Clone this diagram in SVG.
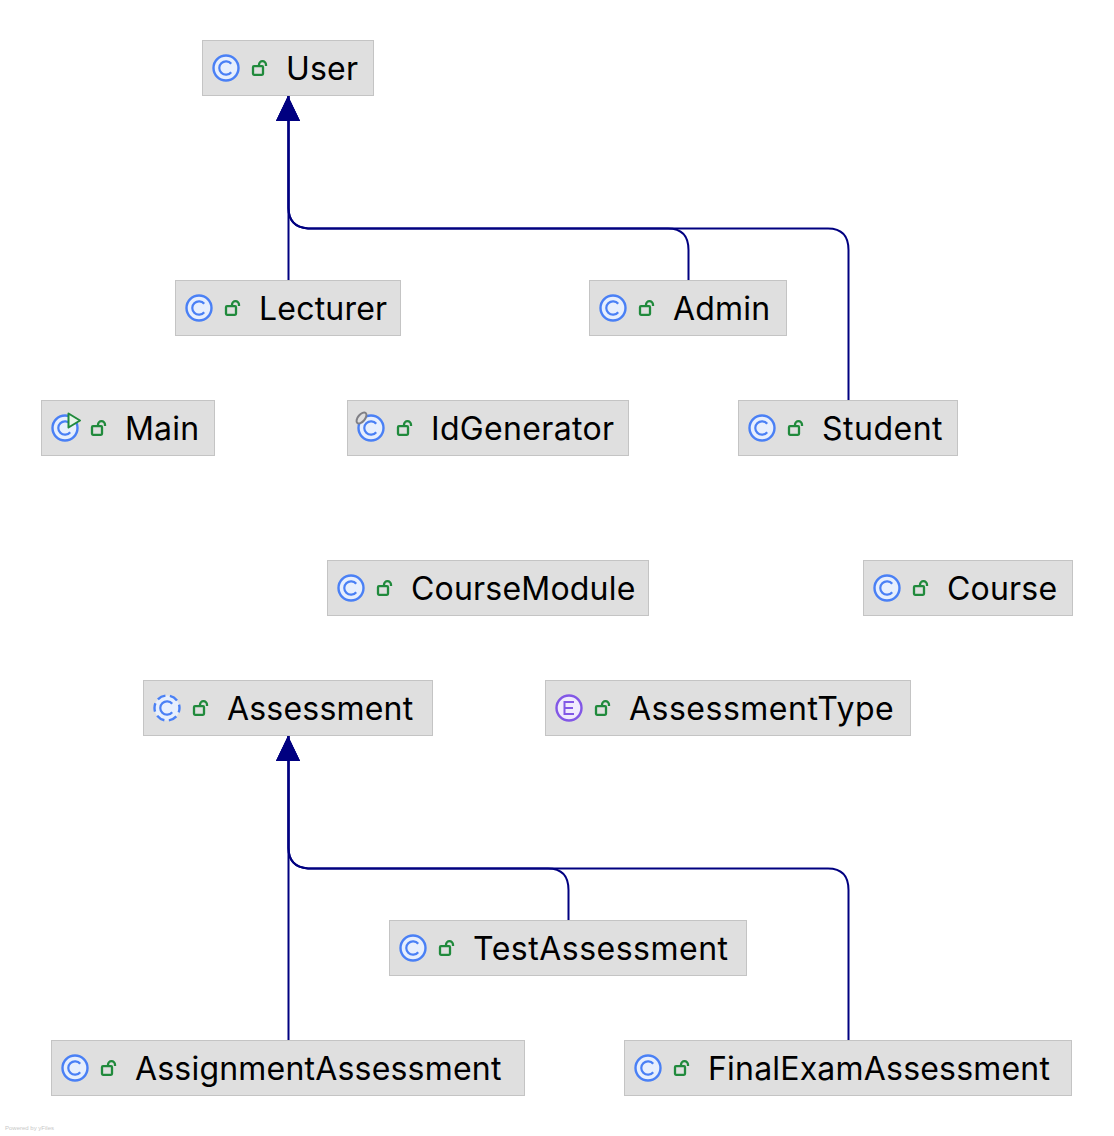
<svg xmlns="http://www.w3.org/2000/svg" width="1114" height="1136" viewBox="0 0 1114 1136">
<style>
.n{fill:#dfdfdf;stroke:#c4c4c4;stroke-width:1}
.t{font-family:Inter,"Noto Sans",sans-serif;font-size:32px;fill:#000;letter-spacing:.2px}
.w{letter-spacing:.5px}
.e{fill:none;stroke:#000080;stroke-width:2}
.ci{fill:#e7effd;stroke:#4a80f5;stroke-width:2.400}
.cg{fill:none;stroke:#4a80f5;stroke-width:2.200}
.lk{fill:none;stroke:#208a3c;stroke-width:2.300}
.f{font-family:"Liberation Sans",sans-serif;font-size:6px;fill:#c8c8c8}
</style>
<defs>
<marker id="a" markerUnits="userSpaceOnUse" markerWidth="26" markerHeight="26" refX="25" refY="12.500" orient="auto"><path d="M0 0L25 12L0 24Z" fill="#000080"/></marker>
<g id="lock"><rect x="-7" y="-1.800" width="10" height="8.600" rx="1" class="lk"/><path class="lk" d="M-1-2V-3.300A3.500 3.500 0 0 1 6-3.300V-2"/></g>
<path id="c" class="cg" d="M5.200-4.200A6.700 6.700 0 1 0 5.200 4.200"/>
<g id="cls"><circle r="12.500" class="ci"/><use href="#c"/></g>
</defs>
<g id="edges">
<path class="e" d="M288.500 280V96" marker-end="url(#a)"/>
<path class="e" d="M688.500 280V250C688.500 236 682 228.500 668 228.500H308C296 227.500 288.500 222 288.500 208V96" marker-end="url(#a)"/>
<path class="e" d="M848.500 400V250C848.500 236 842 228.500 828 228.500H308C296 227.500 288.500 222 288.500 208V96" marker-end="url(#a)"/>
<path class="e" d="M288.500 1040V736" marker-end="url(#a)"/>
<path class="e" d="M568.500 920V890C568.500 876 562 868.500 548 868.500H308C296 867.500 288.500 862 288.500 848V736" marker-end="url(#a)"/>
<path class="e" d="M848.500 1040V890C848.500 876 842 868.500 828 868.500H308C296 867.500 288.500 862 288.500 848V736" marker-end="url(#a)"/>
</g>
<g id="User"><rect class="n" x="202.500" y="40.500" width="171" height="55"/><use href="#cls" x="226" y="68"/><use href="#lock" x="260" y="68"/><text class="t" x="286" y="80">User</text></g>
<g id="Lecturer"><rect class="n" x="175.500" y="280.500" width="225" height="55"/><use href="#cls" x="199" y="308"/><use href="#lock" x="233" y="308"/><text class="t" x="259" y="320">Lecturer</text></g>
<g id="Admin"><rect class="n" x="589.500" y="280.500" width="197" height="55"/><use href="#cls" x="613" y="308"/><use href="#lock" x="647" y="308"/><text class="t" x="673" y="320">Admin</text></g>
<g id="Main"><rect class="n" x="41.500" y="400.500" width="173" height="55"/><use href="#cls" x="65" y="428"/><path d="M68.500 413.500L80 420.500L68.500 427.500Z" fill="#e6f4e9" stroke="#208a3c" stroke-width="2" stroke-linejoin="round"/><use href="#lock" x="99" y="428"/><text class="t" x="125" y="440">Main</text></g>
<g id="IdGenerator"><rect class="n" x="347.500" y="400.500" width="281" height="55"/><use href="#cls" x="371" y="428"/><ellipse cx="361.500" cy="418" rx="6.500" ry="3.500" transform="rotate(-50 361.500 418)" fill="#dfdfdf" stroke="#7f7f85" stroke-width="2"/><use href="#lock" x="405" y="428"/><text class="t" x="431" y="440" style="letter-spacing:.33px">IdGenerator</text></g>
<g id="Student"><rect class="n" x="738.500" y="400.500" width="219" height="55"/><use href="#cls" x="762" y="428"/><use href="#lock" x="796" y="428"/><text class="t w" x="822" y="440">Student</text></g>
<g id="CourseModule"><rect class="n" x="327.500" y="560.500" width="321" height="55"/><use href="#cls" x="351" y="588"/><use href="#lock" x="385" y="588"/><text class="t" x="411" y="600">CourseModule</text></g>
<g id="Course"><rect class="n" x="863.500" y="560.500" width="209" height="55"/><use href="#cls" x="887" y="588"/><use href="#lock" x="921" y="588"/><text class="t" x="947" y="600">Course</text></g>
<g id="Assessment"><rect class="n" x="143.500" y="680.500" width="289" height="55"/><circle cx="167" cy="708" r="12.500" fill="#e7effd" stroke="#4a80f5" stroke-width="2.400" stroke-dasharray="8.500 4.600" stroke-dashoffset="4"/><use href="#c" x="167" y="708"/><use href="#lock" x="201" y="708"/><text class="t" x="227" y="720">Assessment</text></g>
<g id="AssessmentType"><rect class="n" x="545.500" y="680.500" width="365" height="55"/><circle cx="569" cy="708" r="12.500" fill="#f0eafd" stroke="#8257e6" stroke-width="2.400"/><path d="M574 702H564.500V714H574M564.500 708H573" fill="none" stroke="#8257e6" stroke-width="2"/><use href="#lock" x="603" y="708"/><text class="t w" x="629" y="720">AssessmentType</text></g>
<g id="TestAssessment"><rect class="n" x="389.500" y="920.500" width="357" height="55"/><use href="#cls" x="413" y="948"/><use href="#lock" x="447" y="948"/><text class="t w" x="473" y="960">TestAssessment</text></g>
<g id="AssignmentAssessment"><rect class="n" x="51.500" y="1040.500" width="473" height="55"/><use href="#cls" x="75" y="1068"/><use href="#lock" x="109" y="1068"/><text class="t" x="135" y="1080">AssignmentAssessment</text></g>
<g id="FinalExamAssessment"><rect class="n" x="624.500" y="1040.500" width="447" height="55"/><use href="#cls" x="648" y="1068"/><use href="#lock" x="682" y="1068"/><text class="t" x="708" y="1080">FinalExamAssessment</text></g>
<text class="f" x="5" y="1130">Powered by yFiles</text>
</svg>
